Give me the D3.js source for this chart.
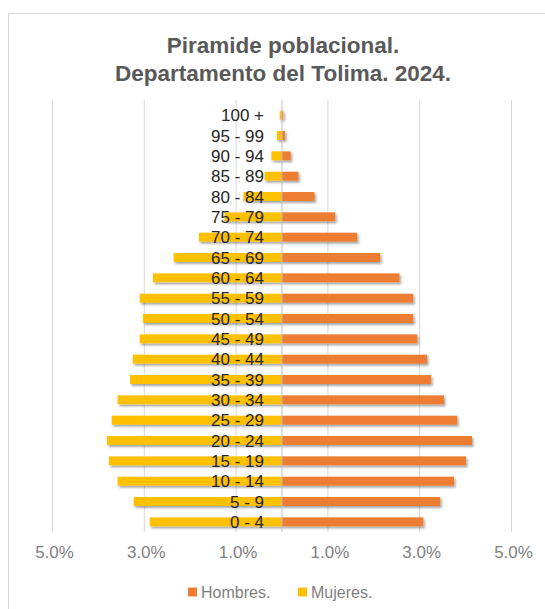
<!DOCTYPE html>
<html>
<head>
<meta charset="utf-8">
<script src="https://cdn.jsdelivr.net/npm/d3@7"></script>
<style>
  html, body { margin: 0; padding: 0; background: #fff; }
  svg { display: block; }
</style>
</head>
<body>
<svg id="chart" width="545" height="609"></svg>
<script>
const titleLines = ["Piramide poblacional.", "Departamento del Tolima. 2024."];
const ageGroups = ["0 - 4", "5 - 9", "10 - 14", "15 - 19", "20 - 24", "25 - 29", "30 - 34", "35 - 39",
  "40 - 44", "45 - 49", "50 - 54", "55 - 59", "60 - 64", "65 - 69", "70 - 74", "75 - 79",
  "80 - 84", "85 - 89", "90 - 94", "95 - 99", "100 +"];
const hombres = [3.09, 3.46, 3.76, 4.02, 4.15, 3.83, 3.54, 3.26, 3.17, 2.96, 2.87, 2.87, 2.57,
  2.15, 1.65, 1.17, 0.72, 0.37, 0.20, 0.08, 0.04];
const mujeres = [2.87, 3.22, 3.57, 3.76, 3.80, 3.70, 3.57, 3.30, 3.24, 3.09, 3.02, 3.09, 2.80,
  2.35, 1.80, 1.24, 0.83, 0.37, 0.22, 0.10, 0.04];
const tickValues = [-5, -3, -1, 1, 3, 5];
const tickLabels = ["5.0%", "3.0%", "1.0%", "1.0%", "3.0%", "5.0%"];
const seriesNames = ["Hombres.", "Mujeres."];
const seriesColors = ["#ED7D31", "#FFC000"];

const svg = d3.select("#chart");
const font = "'Liberation Sans', Arial, sans-serif";

// shadow filter
const defs = svg.append("defs");
const f = defs.append("filter").attr("id", "shadow").attr("x", "-10%").attr("y", "-50%").attr("width", "120%").attr("height", "220%");
f.append("feDropShadow").attr("dx", 1.5).attr("dy", 2).attr("stdDeviation", 1.2)
  .attr("flood-color", "#000").attr("flood-opacity", 0.35);

// frame
svg.append("rect").attr("x", 8.5).attr("y", 13.5).attr("width", 560).attr("height", 620)
  .attr("fill", "#fff").attr("stroke", "#d9d9d9").attr("stroke-width", 1);

// title
svg.append("g").selectAll("text").data(titleLines).join("text")
  .attr("x", 283).attr("y", (d, i) => 53 + i * 28)
  .attr("text-anchor", "middle")
  .attr("font-family", font).attr("font-weight", "bold").attr("font-size", 22.5)
  .attr("fill", "#595959").text(d => d);

const x = d3.scaleLinear().domain([-5, 5]).range([52, 511]);
const y = d3.scaleBand().domain(ageGroups.slice().reverse()).range([105, 532]).paddingInner(0.56).paddingOuter(0.28);

// gridlines
svg.append("g").selectAll("line").data(tickValues).join("line")
  .attr("x1", d => x(d) + 0.5).attr("x2", d => x(d) + 0.5)
  .attr("y1", 100).attr("y2", 532)
  .attr("stroke", "#d9d9d9").attr("stroke-width", 1);

// axis tick labels via d3 axis
const axis = d3.axisBottom(x).tickValues(tickValues).tickFormat((d, i) => tickLabels[i]).tickSize(0).tickPadding(0);
const ax = svg.append("g").attr("transform", "translate(2,546)").call(axis);
ax.select(".domain").remove();
ax.selectAll("text").attr("font-family", font).attr("font-size", 17).attr("fill", "#7f7f7f");

// bars
const bars = svg.append("g").attr("filter", "url(#shadow)");
bars.selectAll("rect.h").data(ageGroups).join("rect").attr("class", "h")
  .attr("x", x(0)).attr("y", d => y(d))
  .attr("width", (d, i) => x(hombres[i]) - x(0)).attr("height", y.bandwidth())
  .attr("fill", seriesColors[0]);
bars.selectAll("rect.m").data(ageGroups).join("rect").attr("class", "m")
  .attr("x", (d, i) => x(-mujeres[i])).attr("y", d => y(d))
  .attr("width", (d, i) => x(0) - x(-mujeres[i])).attr("height", y.bandwidth())
  .attr("fill", seriesColors[1]);

// center axis line
svg.append("line").attr("x1", x(0) + 0.5).attr("x2", x(0) + 0.5).attr("y1", 100).attr("y2", 532)
  .attr("stroke", "#bfbfbf").attr("stroke-width", 1);

// category labels
svg.append("g").selectAll("text").data(ageGroups).join("text")
  .attr("x", 264).attr("y", d => y(d) + y.bandwidth() / 2)
  .attr("dy", "0.36em").attr("text-anchor", "end")
  .attr("font-family", font).attr("font-size", 17).attr("fill", "#262626")
  .text(d => d);

// legend
const leg = svg.append("g").selectAll("g").data(seriesNames).join("g")
  .attr("transform", (d, i) => `translate(${[188, 298][i]},592)`);
leg.append("rect").attr("x", 0).attr("y", -4.5).attr("width", 9).attr("height", 9)
  .attr("fill", (d, i) => seriesColors[i]);
leg.append("text").attr("x", 13).attr("y", 0).attr("dy", "0.35em")
  .attr("font-family", font).attr("font-size", 16).attr("fill", "#7f7f7f").text(d => d);
</script>
</body>
</html>
